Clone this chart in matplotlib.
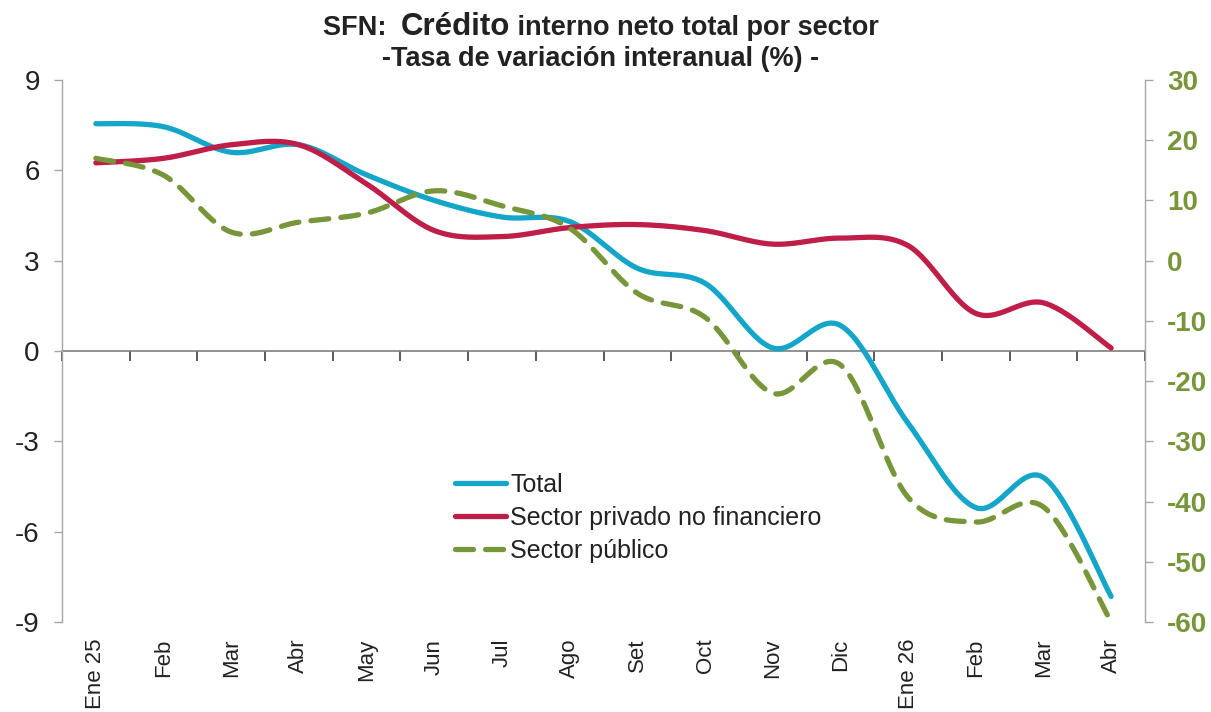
import numpy as np
import matplotlib
matplotlib.use("Agg")
import matplotlib.pyplot as plt
from matplotlib.lines import Line2D

plt.rcParams['font.family'] = ['Liberation Sans', 'DejaVu Sans']

months = ["Ene 25", "Feb", "Mar", "Abr", "May", "Jun", "Jul", "Ago", "Set",
          "Oct", "Nov", "Dic", "Ene 26", "Feb", "Mar", "Abr"]
total = [7.55, 7.45, 6.6, 6.85, 5.85, 5.0, 4.45, 4.3, 2.75, 2.25, 0.1, 0.85,
         -2.4, -5.2, -4.2, -8.15]
privado = [6.25, 6.4, 6.85, 6.85, 5.55, 4.0, 3.8, 4.1, 4.2, 4.0, 3.55, 3.75,
           3.5, 1.25, 1.6, 0.1]
publico = [17.0, 14.2, 4.75, 6.4, 7.9, 11.6, 9.1, 5.4, -5.4, -9.4, -22.0,
           -17.3, -39.3, -43.4, -40.9, -60.0]
left_ticks = [-9, -6, -3, 0, 3, 6, 9]
right_ticks = [-60, -50, -40, -30, -20, -10, 0, 10, 20, 30]

C_TOTAL = "#14A6C9"
C_PRIV = "#BE1E47"
C_PUB = "#77963A"
GRAY = "#A6A6A6"


def smooth(xs, ys, n=30):
    """Excel-like smoothed line (cardinal Bezier spline)."""
    x = np.asarray(xs, float)
    y = np.asarray(ys, float)
    P = np.column_stack([x, y])
    Pe = np.vstack([P[0], P, P[-1]])
    out = []
    t = np.linspace(0, 1, n)[:, None]
    for i in range(len(P) - 1):
        p0 = Pe[i + 1]
        p3 = Pe[i + 2]
        c1 = p0 + (Pe[i + 2] - Pe[i]) / 6.0
        c2 = p3 - (Pe[i + 3] - Pe[i + 1]) / 6.0
        seg = ((1 - t) ** 3) * p0 + 3 * ((1 - t) ** 2) * t * c1 + 3 * (1 - t) * t ** 2 * c2 + t ** 3 * p3
        out.append(seg if i == 0 else seg[1:])
    s = np.vstack(out)
    return s[:, 0], s[:, 1]


fig = plt.figure(figsize=(12.11, 7.12), dpi=100)
ax = fig.add_axes([0.0512, 0.1264, 0.8943, 0.7612])
ax2 = ax.twinx()

x = np.arange(len(months))
lw = 3.8
dash = (0, (3.4, 2.3))
sx, sy = smooth(x, total)
ax.plot(sx, sy, color=C_TOTAL, lw=lw, solid_capstyle='round', zorder=3)
sx, sy = smooth(x, privado)
ax.plot(sx, sy, color=C_PRIV, lw=lw, solid_capstyle='round', zorder=3)
sx, sy = smooth(x, publico)
ax2.plot(sx, sy, color=C_PUB, lw=lw, ls=dash, dash_capstyle='round', zorder=3)

ax.set_xlim(-0.5, len(months) - 0.5)
ax.set_ylim(-9, 9)
ax2.set_ylim(-60, 30)

ax.set_yticks(left_ticks)
ax.set_yticklabels([str(v) for v in left_ticks])
ax2.set_yticks(right_ticks)
ax2.set_yticklabels([str(v) for v in right_ticks])

for s in ['top', 'bottom']:
    ax.spines[s].set_visible(False)
    ax2.spines[s].set_visible(False)
ax.spines['right'].set_visible(False)
ax2.spines['left'].set_visible(False)
ax.spines['left'].set_color(GRAY)
ax2.spines['right'].set_color(GRAY)
ax.spines['left'].set_linewidth(1.0)
ax2.spines['right'].set_linewidth(1.0)

ax.tick_params(axis='y', direction='out', length=6, width=1, color=GRAY,
               labelsize=20, labelcolor='#222222', pad=10)
ax2.tick_params(axis='y', direction='out', length=6, width=1, color=GRAY,
                labelsize=20, labelcolor=C_PUB, pad=10)
for lab in ax2.get_yticklabels():
    lab.set_fontweight('bold')

ax.set_xticks(x)
ax.set_xticklabels(months, rotation=90, fontsize=16, color='#222222')
ax.tick_params(axis='x', length=0, pad=12)

# category axis crossing at zero
sec = ax.secondary_xaxis(0.5)
sec.set_xticks(np.arange(-0.5, len(months), 1.0))
sec.set_xticklabels([])
sec.tick_params(axis='x', which='both', direction='in', length=7, width=1.2,
                color='#404040', labeltop=False, labelbottom=False)
for sp in sec.spines.values():
    sp.set_color('#7F7F7F')
    sp.set_linewidth(1.2)

handles = [Line2D([], [], color=C_TOTAL, lw=lw, solid_capstyle='round'),
           Line2D([], [], color=C_PRIV, lw=lw, solid_capstyle='round'),
           Line2D([], [], color=C_PUB, lw=lw, ls=dash, dash_capstyle='round')]
leg = ax.legend(handles, ["Total", "Sector privado no financiero", "Sector público"],
                loc='upper left', bbox_to_anchor=(0.363, 0.275), frameon=False,
                fontsize=18, handlelength=2.05, handletextpad=0.15, labelspacing=0.36,
                borderaxespad=0, borderpad=0)
for t in leg.get_texts():
    t.set_color('#222222')

# title
fig.canvas.draw()
r = fig.canvas.get_renderer()
parts = [("SFN:  ", 19.5), ("Crédito", 22.5), (" interno neto total por sector", 19.5)]
texts = []
for s, fs in parts:
    texts.append(fig.text(0, 1 - 35 / 712, s, fontsize=fs, fontweight='bold',
                          color='#222222', va='baseline', ha='left'))
widths = [t.get_window_extent(r).width for t in texts]
tot = sum(widths)
cx = 601
xpos = cx - tot / 2
for t, w in zip(texts, widths):
    t.set_x(xpos / fig.bbox.width)
    xpos += w
fig.text(cx / 1211, 1 - 66 / 712, "-Tasa de variación interanual (%) -", fontsize=19.5,
         fontweight='bold', color='#222222', ha='center', va='baseline')

fig.savefig("out.png", dpi=100)
